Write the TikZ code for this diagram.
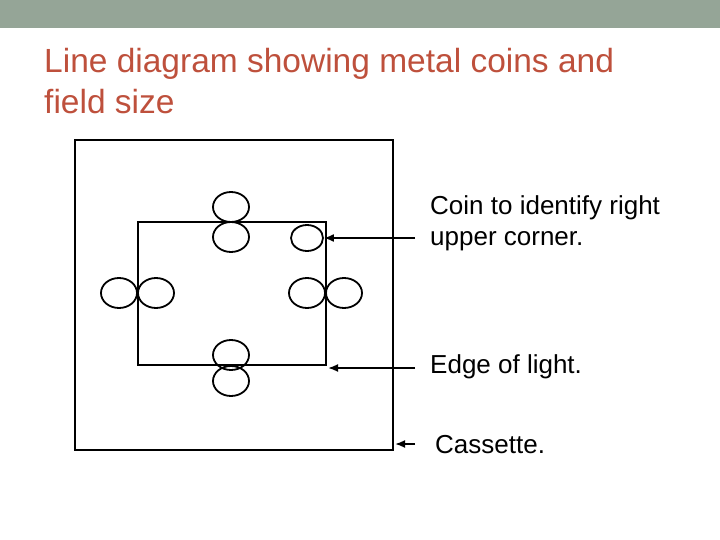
\documentclass[tikz,border=0pt]{standalone}
\usepackage{fontspec}
\usetikzlibrary{shapes.geometric,arrows.meta}
\setmainfont{Liberation Sans}
\begin{document}
\begin{tikzpicture}[x=1pt,y=-1pt,
  coin/.style={draw,line width=1.8pt,ellipse,minimum width=36pt,minimum height=30pt,inner sep=0pt},
  box/.style={draw,line width=2pt},
  lbl/.style={anchor=west,font=\fontsize{26}{31}\selectfont,align=left,inner sep=0pt},
  arr/.style={-{Latex[length=10pt,width=8pt]},line width=1.8pt}]
\useasboundingbox (0,0) rectangle (720,540);
\fill[fill={rgb,255:red,149;green,165;blue,151}] (0,0) rectangle (720,28);
\node[anchor=north west,align=left,inner sep=0pt,text={rgb,255:red,190;green,80;blue,60},
  font=\fontsize{33.5}{41}\selectfont] (title) at (44,48) {Line diagram showing metal coins and\\field size};
\draw[box] (75,140) rectangle (393,450);
\draw[box] (138,222) rectangle (326,365);
\coordinate (cas) at (395,444);
\coordinate (edge) at (328,368);
\node[coin] (t1) at (231,207) {};
\node[coin] (t2) at (231,237) {};
\node[coin] (l1) at (119,293) {};
\node[coin] (l2) at (156,293) {};
\node[coin] (r1) at (307,293) {};
\node[coin] (r2) at (344,293) {};
\node[coin] (b1) at (231,355) {};
\node[coin] (b2) at (231,381) {};
\node[coin,minimum width=32pt,minimum height=26pt] (c) at (307,238) {};
\node[lbl] (lc) at (430,223) {Coin to identify right\\upper corner.};
\node[lbl] (le) at (430,367) {Edge of light.};
\node[lbl] (lk) at (435,445) {Cassette.};
\draw[arr] (415,238) -- (c.east);
\draw[arr] (415,368) -- (edge);
\draw[arr] (415,444) -- (cas);
\end{tikzpicture}
\end{document}
